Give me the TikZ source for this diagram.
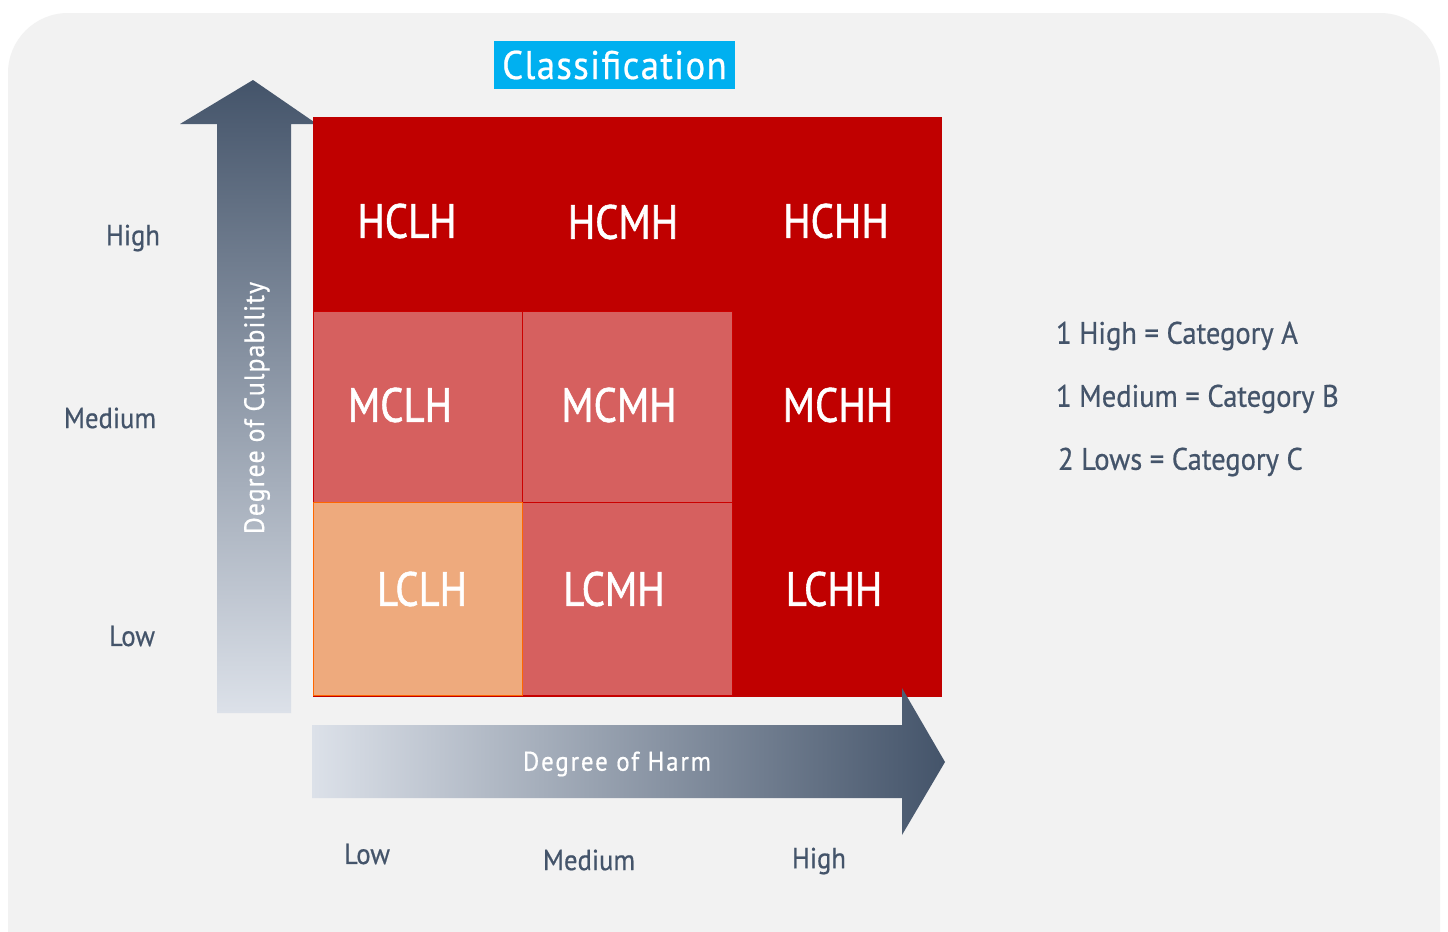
\documentclass[tikz,border=0pt]{standalone}
\usepackage{fontspec}
\setmainfont{PT Sans}
\newfontfamily\dinfont{PT Sans}[FakeStretch=0.85]
\newfontfamily\dinmedium{PT Sans}[FakeStretch=0.85, FakeBold=1.2]
\newfontfamily\dinwide{PT Sans}[FakeStretch=0.92, FakeBold=0.6]
\definecolor{panel}{HTML}{F2F2F2}
\definecolor{slate}{HTML}{44546A}
\definecolor{slatelight}{HTML}{DCE1E9}
\definecolor{darkred}{HTML}{C00000}
\definecolor{midred}{HTML}{D6605F}
\definecolor{peach}{HTML}{EEAA7D}
\definecolor{cyanbox}{HTML}{00B0F0}
\tikzset{
  celltext/.style={text=white, font=\dinmedium\fontsize{24}{28}\selectfont},
  axistext/.style={text=slate, font=\dinwide\fontsize{14.5}{17}\selectfont},
  legendtext/.style={text=slate, anchor=west, font=\dinwide\fontsize{15.5}{18}\selectfont},
  arrowtext/.style={text=white, font=\dinwide\fontsize{13.5}{16}\selectfont\addfontfeature{LetterSpace=7}}
}
\begin{document}
\begin{tikzpicture}[x=0.5pt, y=-0.5pt]
\useasboundingbox (0, 0) rectangle (1448, 932);
\fill [white] (0, 0) rectangle (1448, 932);
\fill [panel, rounded corners=30pt] (8, 13) rectangle (1440, 1000);

% culpability arrow
\shade [top color=slate, bottom color=slatelight]
  (217, 713) -- (217, 124) -- (180, 124) -- (253, 80) -- (317, 124) -- (291, 124) -- (291, 713) -- cycle;
\node [text=white, rotate=90, font=\dinwide\fontsize{14}{16}\selectfont\addfontfeature{LetterSpace=4}] (culp) at (257, 408) {Degree of Culpability};

% grid
\fill [darkred] (313, 117) rectangle (942, 697);
\filldraw [fill=midred, draw=red!80!black, line width=0.4pt] (313, 311) rectangle (522, 502);
\filldraw [fill=midred, draw=red!80!black, line width=0.4pt] (522, 311) rectangle (732, 502);
\filldraw [fill=midred, draw=red!80!black, line width=0.4pt] (522, 502) rectangle (732, 695);
\filldraw [fill=peach, draw=orange!80!red, line width=0.4pt] (313, 502) rectangle (522, 695);

\node [celltext] (hclh) at (407, 221) {HCLH};
\node [celltext] (hcmh) at (623, 222) {HCMH};
\node [celltext] (hchh) at (836, 221) {HCHH};
\node [celltext] (mclh) at (400, 405) {MCLH};
\node [celltext] (mcmh) at (619, 405) {MCMH};
\node [celltext] (mchh) at (838, 405) {MCHH};
\node [celltext] (lclh) at (422, 589) {LCLH};
\node [celltext] (lcmh) at (614, 589) {LCMH};
\node [celltext] (lchh) at (834, 589) {LCHH};

% harm arrow
\shade [left color=slatelight, right color=slate]
  (312, 725) -- (902, 725) -- (902, 688) -- (945, 762) -- (902, 835) -- (902, 798) -- (312, 798) -- cycle;
\node [arrowtext] (harm) at (617, 764) {Degree of Harm};

% title
\node [fill=cyanbox, text=white, minimum width=120.5pt, minimum height=24pt, inner sep=0pt,
  font=\dinwide\fontsize{20}{22}\selectfont\addfontfeature{LetterSpace=3.5}] (title) at (614.5, 65) {Classification};

% axis labels
\node [axistext] (yhigh) at (133, 238) {High};
\node [axistext] (ymed) at (110, 418) {Medium};
\node [axistext] (ylow) at (132, 636) {Low};
\node [axistext] (xlow) at (367, 854) {Low};
\node [axistext] (xmed) at (589, 860) {Medium};
\node [axistext] (xhigh) at (819, 861) {High};

% legend
\node [legendtext] (cata) at (1049, 336) {1 High = Category A};
\node [legendtext] (catb) at (1049, 399) {1 Medium = Category B};
\node [legendtext] (catc) at (1051, 462) {2 Lows = Category C};
\end{tikzpicture}
\end{document}
